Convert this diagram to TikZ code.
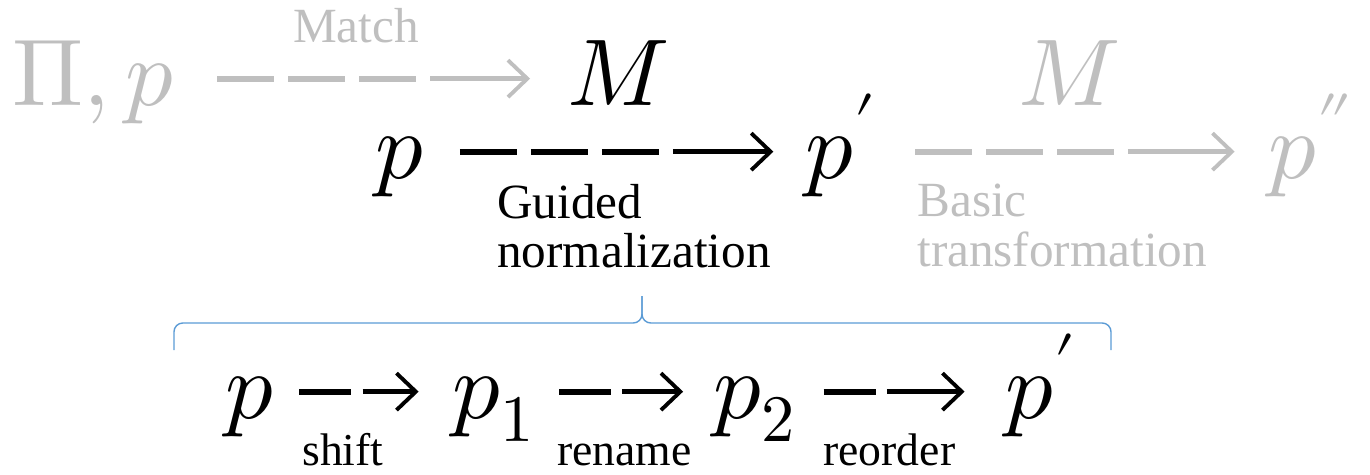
\documentclass[tikz,border=0pt]{standalone}
\usepackage{fontspec}
\usepackage{unicode-math}
\setmainfont{Liberation Serif}
\usetikzlibrary{arrows.meta,positioning,calc}
\definecolor{lgray}{HTML}{BFBFBF}
\definecolor{braceblue}{HTML}{5B9BD5}

\begin{document}
\begin{tikzpicture}[x=0.02cm,y=-0.02cm,
  mathnode/.style={inner sep=0pt, font=\fontsize{54}{58}\selectfont},
  lbl/.style={inner sep=0pt, font=\fontsize{28}{28}\selectfont, align=left},
  steplbl/.style={inner sep=0pt, font=\fontsize{26}{28}\selectfont},
  faded/.style={lgray},
  % long dashed arrow: three dashes, then the shaft with its head
  dashthree/.style={line width=3.4pt, dash pattern=on 32.4pt off 8pt on 32.4pt off 8pt on 32.4pt off 400pt},
  shaftthree/.style={line width=2.8pt, dash pattern=on 0pt off 121.2pt on 400pt,
    -{Straight Barb[length=11pt,width=21pt,line width=2.2pt]}},
  % short dashed arrow: one dash, then the shaft
  dashone/.style={line width=3.4pt, dash pattern=on 29.6pt off 400pt},
  shaftone/.style={line width=2.8pt, dash pattern=on 0pt off 36pt on 400pt,
    -{Straight Barb[length=11pt,width=21pt,line width=2.2pt]}},
  bracepath/.style={braceblue, line width=0.8pt, rounded corners=5pt}
]
\useasboundingbox (0,0) rectangle (1370,474);
% top row: match
\node[mathnode, faded, anchor=base west] (pip) at (12,105) {$\Pi, p$};
\node[mathnode, anchor=base west] (mtop) at (567,105) {$M$};
\node[lbl, faded, anchor=base] (match) at (356,42) {Match};
\draw[dashthree, faded, shorten <=24pt, shorten >=21pt]
  ([yshift=15pt]pip.base east) -- ([yshift=15pt]mtop.base west);
\draw[shaftthree, faded, shorten <=24pt, shorten >=21pt]
  ([yshift=15pt]pip.base east) -- ([yshift=15pt]mtop.base west);
% middle row: normalization, then transformation
\node[mathnode, anchor=base west] (p) at (375,178) {$p$};
\node[mathnode, anchor=base west] (pn) at (805,178) {$p'$};
\node[mathnode, faded, anchor=base west] (mmid) at (1018,105) {$M$};
\node[mathnode, faded, anchor=base west] (pt) at (1268,178) {$p''$};
\draw[dashthree, shorten <=20pt, shorten >=18pt]
  ([yshift=15pt]p.base east) -- ([yshift=15pt]pn.base west);
\draw[shaftthree, shorten <=20pt, shorten >=18pt]
  ([yshift=15pt]p.base east) -- ([yshift=15pt]pn.base west);
\draw[dashthree, faded, shorten <=22pt, shorten >=19pt]
  ([yshift=15pt]pn.base east) -- ([yshift=15pt]pt.base west);
\draw[shaftthree, faded, shorten <=22pt, shorten >=19pt]
  ([yshift=15pt]pn.base east) -- ([yshift=15pt]pt.base west);
\node[lbl, anchor=north west] (guided) at (497,184) {Guided\\normalization};
\node[lbl, faded, anchor=north west] (basic) at (917,184) {Basic\\transformation};
% brace
\draw[bracepath] (174,350) |- (642,323) -- (642,296);
\draw[bracepath] (1111,350) |- (642,323) -- (642,296);
% bottom row: the three steps
\node[mathnode, anchor=base west] (q) at (225,418) {$p$};
\node[mathnode, anchor=base west] (qa) at (452,418) {$p_1$};
\node[mathnode, anchor=base west] (qb) at (713,418) {$p_2$};
\node[mathnode, anchor=base west] (qc) at (1005,418) {$p'$};
\draw[dashone, shorten <=14pt, shorten >=19pt]
  ([yshift=15pt]q.base east) -- ([yshift=15pt]qa.base west);
\draw[shaftone, shorten <=14pt, shorten >=19pt]
  ([yshift=15pt]q.base east) -- ([yshift=15pt]qa.base west);
\draw[dashone, shorten <=14pt, shorten >=17pt]
  ([yshift=15pt]qa.base east) -- ([yshift=15pt]qb.base west);
\draw[shaftone, shorten <=14pt, shorten >=17pt]
  ([yshift=15pt]qa.base east) -- ([yshift=15pt]qb.base west);
\draw[dashone, shorten <=16pt, shorten >=23pt]
  ([yshift=15pt]qb.base east) -- ([yshift=15pt]qc.base west);
\draw[shaftone, shorten <=16pt, shorten >=23pt]
  ([yshift=15pt]qb.base east) -- ([yshift=15pt]qc.base west);
\node[steplbl, anchor=base west] (shift) at (302,465) {shift};
\node[steplbl, anchor=base west] (rename) at (557,465) {rename};
\node[steplbl, anchor=base west] (reorder) at (823,465) {reorder};
\end{tikzpicture}
\end{document}
